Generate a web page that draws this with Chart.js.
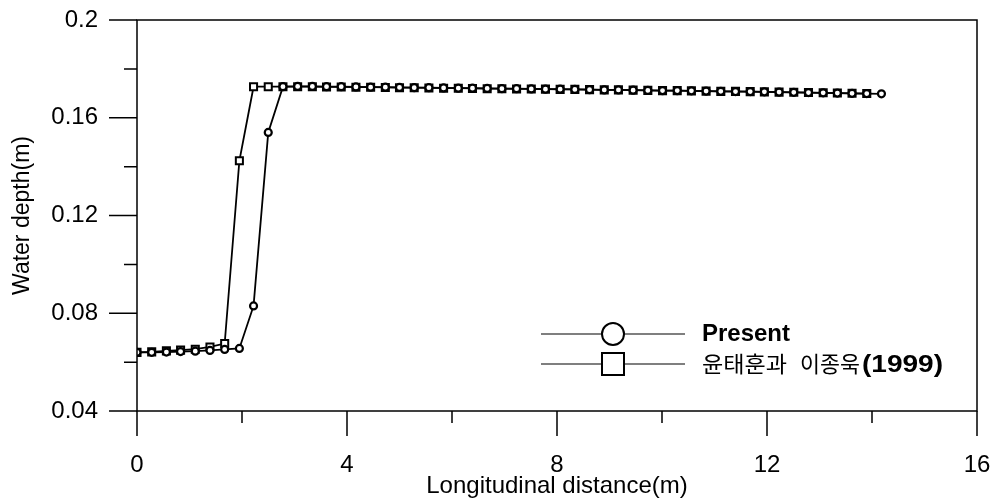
<!DOCTYPE html>
<html>
<head>
<meta charset="utf-8">
<script src="https://cdn.jsdelivr.net/npm/chart.js@4"></script>
<style>
  body { margin: 0; background: #fff; }
  canvas { display: block; }
</style>
</head>
<body>
<canvas id="depthChart" width="997" height="500"></canvas>
<script>
// 종방향 거리 (m)
const distances = [0, 0.28, 0.56, 0.83, 1.11, 1.39, 1.67, 1.95, 2.22, 2.50, 2.78, 3.06, 3.34, 3.61, 3.89,
  4.17, 4.45, 4.73, 5.00, 5.28, 5.56, 5.84, 6.12, 6.39, 6.67, 6.95, 7.23, 7.51, 7.78, 8.06, 8.34, 8.62,
  8.90, 9.17, 9.45, 9.73, 10.01, 10.29, 10.56, 10.84, 11.12, 11.40, 11.68, 11.95, 12.23, 12.51, 12.79,
  13.07, 13.34, 13.62, 13.90, 14.18];

// Present
const presentDepth = [0.0640, 0.0640, 0.0641, 0.0643, 0.0645, 0.0648, 0.0652, 0.0656, 0.0830, 0.1540,
  0.1727, 0.1728, 0.1728, 0.1727, 0.1727, 0.1726, 0.1725, 0.1725, 0.1724, 0.1723, 0.1723, 0.1722,
  0.1721, 0.1721, 0.1720, 0.1719, 0.1719, 0.1718, 0.1717, 0.1717, 0.1716, 0.1715, 0.1714, 0.1714,
  0.1713, 0.1712, 0.1711, 0.1711, 0.1710, 0.1709, 0.1708, 0.1707, 0.1707, 0.1706, 0.1705, 0.1704,
  0.1703, 0.1702, 0.1701, 0.1700, 0.1699, 0.1698];

// 윤태훈과 이종욱(1999)
const yoonDepth = [0.0640, 0.0642, 0.0646, 0.0649, 0.0653, 0.0662, 0.0676, 0.1424, 0.1727, 0.1727,
  0.1727, 0.1727, 0.1727, 0.1726, 0.1726, 0.1725, 0.1725, 0.1724, 0.1723, 0.1723, 0.1722, 0.1721,
  0.1721, 0.1720, 0.1719, 0.1719, 0.1718, 0.1718, 0.1717, 0.1716, 0.1716, 0.1715, 0.1714, 0.1714,
  0.1713, 0.1712, 0.1711, 0.1711, 0.1710, 0.1709, 0.1708, 0.1708, 0.1707, 0.1706, 0.1705, 0.1704,
  0.1703, 0.1702, 0.1701, 0.1700, 0.1699];

const xMajorTicks = [0, 4, 8, 12, 16];
const xMinorTicks = [2, 6, 10, 14];
const yMajorTicks = [0.04, 0.08, 0.12, 0.16, 0.2];
const yMinorTicks = [0.06, 0.10, 0.14, 0.18];

const FONT = 'Arial, "Liberation Sans", sans-serif';

function toPoints(ys) {
    return ys.map((y, i) => ({ x: distances[i], y: y }));
}

function noPadding(scale) {
    scale.paddingTop = 0;
    scale.paddingBottom = 0;
    scale.paddingLeft = 0;
    scale.paddingRight = 0;
}

// 글자를 주어진 폭에 맞춰 가로로 늘려 그림
function drawFit(ctx, text, x, y, width) {
    const w = ctx.measureText(text).width;
    ctx.save();
    ctx.translate(x, y);
    ctx.scale(width / w, 1);
    ctx.fillText(text, 0, 0);
    ctx.restore();
}

// 축 테두리와 눈금 (바깥쪽)
const frameTicks = {
    id: 'frameTicks',
    afterDraw(chart) {
        const { ctx, chartArea, scales } = chart;
        ctx.save();
        ctx.strokeStyle = '#000';
        ctx.lineWidth = 1.5;
        ctx.strokeRect(chartArea.left, chartArea.top, chartArea.right - chartArea.left, chartArea.bottom - chartArea.top);
        ctx.beginPath();
        xMajorTicks.forEach(v => {
            const px = scales.x.getPixelForValue(v);
            ctx.moveTo(px, chartArea.bottom); ctx.lineTo(px, chartArea.bottom + 25);
        });
        xMinorTicks.forEach(v => {
            const px = scales.x.getPixelForValue(v);
            ctx.moveTo(px, chartArea.bottom); ctx.lineTo(px, chartArea.bottom + 12);
        });
        yMajorTicks.forEach(v => {
            const py = scales.y.getPixelForValue(v);
            ctx.moveTo(chartArea.left, py); ctx.lineTo(chartArea.left - 28, py);
        });
        yMinorTicks.forEach(v => {
            const py = scales.y.getPixelForValue(v);
            ctx.moveTo(chartArea.left, py); ctx.lineTo(chartArea.left - 13, py);
        });
        ctx.stroke();
        ctx.restore();
    }
};

// 범례: 긴 선 가운데 기호
const lineLegend = {
    id: 'lineLegend',
    afterDraw(chart) {
        const { ctx, chartArea } = chart;
        const x0 = chartArea.right - 436, x1 = chartArea.right - 292, mx = (x0 + x1) / 2;
        const rows = [chartArea.top + 314, chartArea.top + 344];
        ctx.save();
        ctx.strokeStyle = '#000';
        ctx.fillStyle = '#000';
        ctx.lineWidth = 1.2;
        rows.forEach((y, i) => {
            ctx.beginPath();
            ctx.moveTo(x0, y); ctx.lineTo(x1, y);
            ctx.stroke();
            ctx.fillStyle = '#fff';
            ctx.lineWidth = 2;
            ctx.beginPath();
            if (i === 0) {
                ctx.arc(mx, y, 11, 0, Math.PI * 2);
            } else {
                ctx.rect(mx - 11, y - 11, 22, 22);
            }
            ctx.fill();
            ctx.stroke();
            ctx.lineWidth = 1.2;
            ctx.fillStyle = '#000';
        });
        const tx = x1 + 17;
        ctx.textBaseline = 'middle';
        ctx.font = 'bold 24px ' + FONT;
        drawFit(ctx, 'Present', tx, rows[0], 88);
        ctx.font = '22px "Noto Sans CJK KR", sans-serif';
        drawFit(ctx, '윤태훈과', tx, rows[1], 85);
        drawFit(ctx, '이종욱', tx + 98, rows[1], 60);
        ctx.font = 'bold 24px ' + FONT;
        drawFit(ctx, '(1999)', tx + 160, rows[1] + 1, 81);
        ctx.restore();
    }
};

new Chart(document.getElementById('depthChart'), {
    type: 'line',
    data: {
        datasets: [
            {
                label: 'Present',
                data: toPoints(presentDepth),
                borderColor: '#000',
                borderWidth: 1.8,
                pointStyle: 'circle',
                pointRadius: 3.5,
                pointBorderWidth: 2.2,
                pointBackgroundColor: '#fff',
                pointBorderColor: '#000',
                tension: 0
            },
            {
                label: '윤태훈과 이종욱(1999)',
                data: toPoints(yoonDepth),
                borderColor: '#000',
                borderWidth: 1.8,
                pointStyle: 'rect',
                pointRadius: 5,
                pointBorderWidth: 2,
                pointBackgroundColor: '#fff',
                pointBorderColor: '#000',
                tension: 0
            }
        ]
    },
    options: {
        responsive: false,
        animation: false,
        layout: { padding: { left: 0, right: 20, top: 20, bottom: 0 } },
        plugins: {
            legend: { display: false },
            tooltip: { enabled: false }
        },
        scales: {
            x: {
                type: 'linear',
                min: 0,
                max: 16,
                grid: { display: false },
                border: { display: false },
                afterFit(scale) { scale.height = 89; noPadding(scale); },
                ticks: {
                    stepSize: 4,
                    padding: 32,
                    color: '#000',
                    font: { family: FONT, size: 24 }
                },
                title: {
                    display: true,
                    text: 'Longitudinal distance(m)',
                    color: '#000',
                    font: { family: FONT, size: 24 },
                    padding: { top: 0, bottom: -1 }
                }
            },
            y: {
                type: 'linear',
                min: 0.04,
                max: 0.2,
                grid: { display: false },
                border: { display: false },
                afterFit(scale) { scale.width = 137; noPadding(scale); },
                ticks: {
                    stepSize: 0.04,
                    padding: 31,
                    color: '#000',
                    font: { family: FONT, size: 24 },
                    callback: v => String(+v.toFixed(2))
                },
                title: {
                    display: true,
                    text: 'Water depth(m)',
                    color: '#000',
                    font: { family: FONT, size: 23 },
                    padding: { top: 9, bottom: 0 }
                }
            }
        }
    },
    plugins: [frameTicks, lineLegend]
});
</script>
</body>
</html>
